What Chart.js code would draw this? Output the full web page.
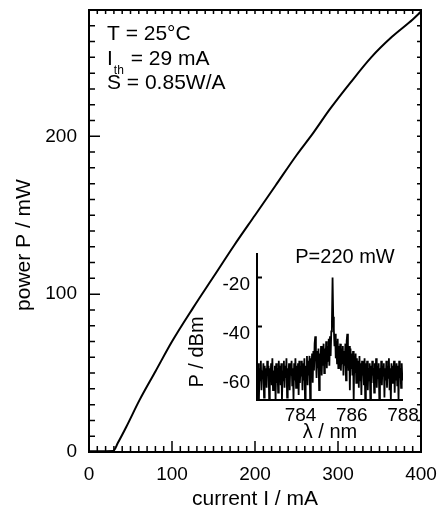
<!DOCTYPE html>
<html>
<head>
<meta charset="utf-8">
<script src="https://cdn.jsdelivr.net/npm/chart.js@4.4.0/dist/chart.umd.min.js"></script>
<style>
  html, body { margin: 0; padding: 0; background: #fff; }
  #wrap { position: relative; width: 438px; height: 510px; }
  #mainChart { position: absolute; left: 0; top: 0; }
  #insetChart { position: absolute; left: 180px; top: 235px; }
</style>
</head>
<body>
<div id="wrap">
  <canvas id="mainChart" width="438" height="510"></canvas>
  <canvas id="insetChart" width="250" height="215"></canvas>
</div>
<script>
// L-I curve
var currentMA = [0, 10, 20, 29, 35, 45, 61, 80, 100, 125, 150, 175, 200, 225, 250, 270, 290, 315, 340, 365, 390, 400];
var powerMW   = [0.4, 0.4, 0.5, 0.6, 6, 16, 33, 51, 70, 91, 111, 131, 150, 169, 188, 202, 217, 234, 250, 263, 274, 279];
var xTicks = [0, 100, 200, 300, 400];
var yTicks = [0, 100, 200];

// inset spectrum at P = 220 mW
var lambdaStart = 782.3, lambdaStep = 0.025;
var spectrumDBm = [
  -56, -64, -55, -70, -57, -62, -54, -66, -58, -61,
  -55, -69, -56, -63, -57, -65, -54, -60, -56, -70,
  -57, -62, -55, -64, -53, -66, -58, -61, -56, -70,
  -55, -63, -57, -67, -54, -60, -56, -64, -55, -70,
  -58, -62, -54, -65, -56, -61, -53, -69, -57, -63,
  -55, -66, -56, -60, -54, -64, -57, -70, -55, -62,
  -53, -65, -56, -61, -55, -68, -54, -63, -56, -60,
  -54, -66, -55, -62, -53, -70, -56, -61, -52, -64,
  -54, -60, -52, -70, -53, -59, -51, -63, -50, -58,
  -47, -44, -52, -61, -50, -57, -49, -66, -51, -58,
  -48, -60, -50, -56, -47, -59, -49, -55, -46, -57,
  -48, -54, -45, -56, -44, -52, -42, -38, -20, -36,
  -41, -48, -43, -53, -46, -55, -45, -57, -48, -54,
  -47, -58, -49, -55, -48, -60, -50, -56, -47, -62,
  -46, -43, -50, -58, -48, -66, -49, -57, -51, -60,
  -50, -70, -52, -59, -51, -63, -53, -61, -54, -65,
  -52, -62, -55, -68, -54, -60, -56, -64, -53, -70,
  -55, -61, -54, -66, -57, -62, -55, -70, -56, -63,
  -54, -60, -57, -67, -55, -62, -53, -65, -56, -61,
  -55, -70, -57, -63, -54, -64, -56, -60, -55, -69,
  -57, -62, -54, -65, -56, -61, -53, -66, -57, -70,
  -55, -63, -56, -60, -54, -67, -57, -62, -55, -64,
  -56, -70, -54, -61, -57, -65, -55, -62
];
var specXTicks = [784, 786, 788];
var specYTicks = [-60, -40, -20];

Chart.defaults.font.family = "'Liberation Sans', Arial, sans-serif";
Chart.defaults.color = '#000';

var FONT = "'Liberation Sans', Arial, sans-serif";

// no automatic label padding, layout.padding decides the plot box
function noPad(s) {
  s.paddingTop = 0; s.paddingBottom = 0; s.paddingLeft = 0; s.paddingRight = 0;
}

var mainFrame = {
  id: 'mainFrame',
  afterDatasetsDraw: function (chart) {
    var ctx = chart.ctx, a = chart.chartArea, x = chart.scales.x, y = chart.scales.y;
    ctx.save();
    ctx.strokeStyle = '#000';
    ctx.lineWidth = 2;
    ctx.strokeRect(a.left, a.top, a.right - a.left, a.bottom - a.top);
    ctx.lineWidth = 1.5;
    ctx.beginPath();
    for (var v = 0; v <= 400; v += 10) {
      var px = x.getPixelForValue(v), big = v % 100 === 0;
      ctx.moveTo(px, a.bottom); ctx.lineTo(px, a.bottom - (big ? 11 : 6));
      ctx.moveTo(px, a.top); ctx.lineTo(px, a.top + 4);
    }
    for (var w = 0; w <= 280; w += 10) {
      var py = y.getPixelForValue(w), bigY = w % 100 === 0;
      ctx.moveTo(a.left, py); ctx.lineTo(a.left + (bigY ? 11 : 6), py);
      ctx.moveTo(a.right, py); ctx.lineTo(a.right - 4, py);
    }
    ctx.stroke();

    // y title
    ctx.fillStyle = '#000';
    ctx.font = '21px ' + FONT;
    ctx.textAlign = 'center';
    ctx.textBaseline = 'middle';
    ctx.save();
    ctx.translate(24, 245);
    ctx.rotate(-Math.PI / 2);
    ctx.fillText('power P / mW', 0, 0);
    ctx.restore();

    // annotation
    ctx.textAlign = 'left';
    ctx.textBaseline = 'alphabetic';
    var tx = a.left + 18;
    ctx.fillText('T = 25\u00B0C', tx, a.top + 30);
    ctx.fillText('I', tx, a.top + 55);
    var iw = ctx.measureText('I').width;
    ctx.font = '12px ' + FONT;
    ctx.fillText('th', tx + iw + 1, a.top + 64);
    var thw = ctx.measureText('th').width;
    ctx.font = '21px ' + FONT;
    ctx.fillText(' = 29 mA', tx + iw + thw + 2, a.top + 55);
    ctx.fillText('S = 0.85W/A', tx, a.top + 79);
    ctx.restore();
  }
};

var insetFrame = {
  id: 'insetFrame',
  afterDatasetsDraw: function (chart) {
    var ctx = chart.ctx, a = chart.chartArea, y = chart.scales.y;
    ctx.save();
    ctx.strokeStyle = '#000';
    ctx.lineWidth = 2;
    ctx.beginPath();
    ctx.moveTo(a.left, a.top);
    ctx.lineTo(a.left, a.bottom);
    ctx.lineTo(a.right, a.bottom);
    specYTicks.forEach(function (v) {
      var py = y.getPixelForValue(v);
      ctx.moveTo(a.left, py); ctx.lineTo(a.left + 5, py);
    });
    ctx.stroke();

    ctx.fillStyle = '#000';
    ctx.font = '20px ' + FONT;
    ctx.textAlign = 'center';
    ctx.textBaseline = 'alphabetic';
    ctx.fillText('P=220 mW', a.left + 88, a.top + 10);

    ctx.textBaseline = 'middle';
    ctx.save();
    ctx.translate(17, 117);
    ctx.rotate(-Math.PI / 2);
    ctx.fillText('P / dBm', 0, 0);
    ctx.restore();
    ctx.restore();
  }
};

new Chart(document.getElementById('mainChart'), {
  type: 'line',
  data: {
    datasets: [{
      data: currentMA.map(function (c, i) { return { x: c, y: powerMW[i] }; }),
      borderColor: '#000',
      borderWidth: 2,
      pointRadius: 0,
      cubicInterpolationMode: 'monotone',
      fill: false
    }]
  },
  options: {
    responsive: false,
    animation: false,
    events: [],
    layout: { padding: { top: 10, right: 17, left: 0, bottom: 0 } },
    plugins: { legend: { display: false }, tooltip: { enabled: false } },
    scales: {
      x: {
        type: 'linear', min: 0, max: 400,
        grid: { display: false, drawTicks: false },
        border: { display: false },
        ticks: { padding: 11, font: { size: 19 }, maxRotation: 0 },
        afterBuildTicks: function (s) { s.ticks = xTicks.map(function (v) { return { value: v }; }); },
        afterFit: function (s) { s.height = 58; noPad(s); },
        title: { display: true, text: 'current I / mA', font: { size: 21 }, padding: { top: 0, bottom: -2 } }
      },
      y: {
        type: 'linear', min: 0, max: 280,
        grid: { display: false, drawTicks: false },
        border: { display: false },
        ticks: { padding: 12, font: { size: 19 } },
        afterBuildTicks: function (s) { s.ticks = yTicks.map(function (v) { return { value: v }; }); },
        afterFit: function (s) { s.width = 89; noPad(s); }
      }
    }
  },
  plugins: [mainFrame]
});

new Chart(document.getElementById('insetChart'), {
  type: 'line',
  data: {
    datasets: [{
      data: spectrumDBm.map(function (d, i) { return { x: lambdaStart + i * lambdaStep, y: d }; }),
      borderColor: '#000',
      borderWidth: 1.8,
      pointRadius: 0,
      tension: 0,
      fill: false
    }]
  },
  options: {
    responsive: false,
    animation: false,
    events: [],
    layout: { padding: { top: 18, right: 27, left: 0, bottom: 0 } },
    plugins: { legend: { display: false }, tooltip: { enabled: false } },
    scales: {
      x: {
        type: 'linear', min: 782.3, max: 788.0,
        grid: { display: false, drawTicks: false },
        border: { display: false },
        ticks: { padding: 4, font: { size: 19 }, maxRotation: 0 },
        afterBuildTicks: function (s) { s.ticks = specXTicks.map(function (v) { return { value: v }; }); },
        afterFit: function (s) { s.height = 50; noPad(s); },
        title: { display: true, text: '\u03BB / nm', font: { size: 20 }, padding: { top: 0, bottom: 6 } }
      },
      y: {
        type: 'linear', min: -70, max: -10,
        grid: { display: false, drawTicks: false },
        border: { display: false },
        ticks: { padding: 7, labelOffset: 7, font: { size: 19 } },
        afterBuildTicks: function (s) { s.ticks = specYTicks.map(function (v) { return { value: v }; }); },
        afterFit: function (s) { s.width = 77; noPad(s); }
      }
    }
  },
  plugins: [insetFrame]
});
</script>
</body>
</html>
